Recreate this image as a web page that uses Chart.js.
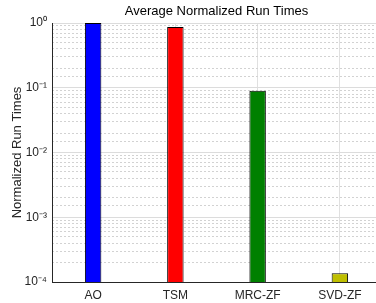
<!DOCTYPE html>
<html>
<head>
<meta charset="utf-8">
<script src="https://cdn.jsdelivr.net/npm/chart.js@4"></script>
<style>
  html, body { margin: 0; padding: 0; overflow: hidden; background: #fff; }
  #wrap { width: 384px; height: 303px; }
</style>
</head>
<body>
<div id="wrap"><canvas id="grafico"></canvas></div>
<script>
const categorias = ['AO', 'TSM', 'MRC-ZF', 'SVD-ZF'];
const tiempos = [1.0, 0.87, 0.09, 0.000136];
const colores = ['#0000ff', '#ff0000', '#008000', '#bfbf00'];
const sup = { '0': '⁰', '1': '¹', '2': '²', '3': '³', '4': '⁴', '-': '⁻' };

const esDecada = (v) => Math.abs(Math.log10(v) - Math.round(Math.log10(v))) < 1e-9;

// patron punteado para las lineas menores
const pc = document.createElement('canvas');
pc.width = 4; pc.height = 1;
const pctx = pc.getContext('2d');
pctx.fillStyle = '#d2d2d2';
pctx.fillRect(0, 0, 2, 1);
const punteado = pctx.createPattern(pc, 'repeat');

const fuente = 'Liberation Sans, Arial, Helvetica, sans-serif';

const ctx = document.getElementById('grafico').getContext('2d');
window.miGrafico = new Chart(ctx, {
    type: 'bar',
    data: {
        labels: categorias,
        datasets: [{
            data: tiempos,
            backgroundColor: colores,
            borderColor: '#000000',
            borderWidth: 1,
            barPercentage: 0.2,
            categoryPercentage: 1.0
        }]
    },
    options: {
        responsive: true,
        maintainAspectRatio: false,
        animation: false,
        layout: { padding: { top: 0, bottom: 0, left: 0, right: 3 } },
        plugins: {
            legend: { display: false },
            tooltip: { enabled: false },
            title: {
                display: true,
                text: 'Average Normalized Run Times',
                fullSize: false,
                color: '#000',
                font: { family: fuente, size: 13, weight: 'normal' },
                padding: { top: 4, bottom: 3.4 }
            }
        },
        scales: {
            x: {
                offset: true,
                grid: { offset: false, color: '#e0e0e0', drawTicks: false },
                border: { color: '#262626', width: 1 },
                ticks: { color: '#262626', font: { family: fuente, size: 12 }, padding: 6 },
                afterFit: (s) => { s.height = 21; }
            },
            y: {
                type: 'logarithmic',
                min: 0.0001,
                max: 1,
                grid: {
                    drawTicks: false,
                    color: (c) => (c.tick && esDecada(c.tick.value)) ? '#dcdcdc' : punteado
                },
                border: { color: '#262626', width: 1 },
                ticks: {
                    autoSkip: false,
                    color: '#262626',
                    padding: 5,
                    font: { family: fuente, size: 12 },
                    callback: function (value) {
                        if (!esDecada(value)) return '';
                        const e = String(Math.round(Math.log10(value)));
                        return '10' + e.split('').map(ch => sup[ch]).join('');
                    }
                },
                title: {
                    display: true,
                    text: 'Normalized Run Times',
                    color: '#262626',
                    font: { family: fuente, size: 13 },
                    padding: { top: 10, bottom: 0 }
                },
                afterFit: (s) => { s.width = 52; }
            }
        }
    }
});
</script>
</body>
</html>
